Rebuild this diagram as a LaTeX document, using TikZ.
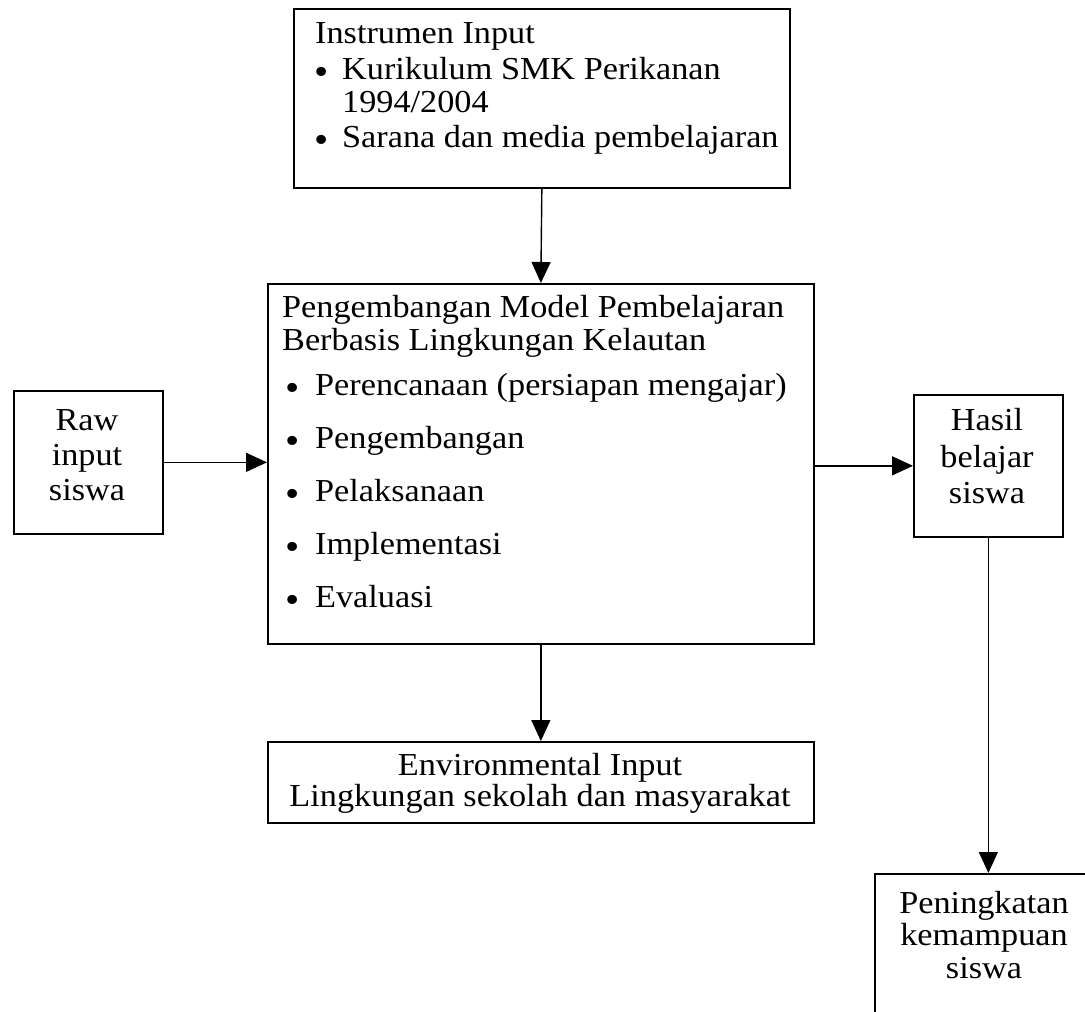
\documentclass[tikz,border=0pt]{standalone}
\usepackage{fontspec}
\setmainfont{Liberation Serif}[FakeStretch=1.07]
\usepackage{tikz}
\usetikzlibrary{positioning, arrows.meta}

\newcommand{\blt}{\raisebox{-5pt}{\fontsize{38}{38}\selectfont\textbullet}}

\tikzset{
  box/.style={draw, line width=1.7pt, anchor=north west, inner sep=0pt},
  txt/.style={anchor=base west, inner sep=0pt},
  ctxt/.style={anchor=base, inner sep=0pt},
  arr/.style={-{Triangle[length=21pt,width=19pt]}, line width=1.4pt}
}

\begin{document}
\begin{tikzpicture}[x=1pt, y=-1pt, font=\fontsize{32}{34}\selectfont]
  \useasboundingbox (0,0) rectangle (1085,1012);
  % Boxes
  \node[box, minimum width=496pt, minimum height=179pt] (instr) at (293,8) {};
  \node[box, minimum width=546pt, minimum height=360pt] (main) at (267,283) {};
  \node[box, minimum width=149pt, minimum height=143pt] (raw) at (13,390) {};
  \node[box, minimum width=149pt, minimum height=142pt] (hasil) at (913,394) {};
  \node[box, minimum width=546pt, minimum height=81pt] (env) at (267,741) {};
  \node[box, minimum width=260pt, minimum height=180pt] (ping) at (874,873) {};
  % Instrumen input
  \node[txt] (instrT) at (315,43) {Instrumen Input};
  \node[txt] (instrB1) at (314,79) {\blt};
  \node[txt, align=left, font=\fontsize{32}{33}\selectfont] (instrI1) at (342,112)
    {Kurikulum SMK Perikanan\\1994/2004};
  \node[txt] (instrB2) at (314,147) {\blt};
  \node[txt] (instrI2) at (342,147) {Sarana dan media pembelajaran};
  % Model pembelajaran
  \node[txt] (mainT1) at (282,317) {Pengembangan Model Pembelajaran};
  \node[txt] (mainT2) at (282,350) {Berbasis Lingkungan Kelautan};
  \foreach \y/\item [count=\i] in {395/Perencanaan (persiapan mengajar), 448/Pengembangan,
      501/Pelaksanaan, 554/Implementasi, 607/Evaluasi} {
    \node[txt] (mainB\i) at (285,\y) {\blt};
    \node[txt] (mainI\i) at (315,\y) {\item};
  }
  % Raw input
  \node[ctxt] (rawA) at (87,430) {Raw};
  \node[ctxt] (rawB) at (87,465) {input};
  \node[ctxt] (rawC) at (87,500) {siswa};
  % Hasil belajar
  \node[ctxt] (hasilA) at (987,430) {Hasil};
  \node[ctxt] (hasilB) at (987,467) {belajar};
  \node[ctxt] (hasilC) at (987,503) {siswa};
  % Environmental input
  \node[ctxt] (envA) at (540,775) {Environmental Input};
  \node[ctxt] (envB) at (540,806) {Lingkungan sekolah dan masyarakat};
  % Peningkatan kemampuan
  \node[ctxt] (pingA) at (984,913) {Peningkatan};
  \node[ctxt] (pingB) at (984,945) {kemampuan};
  \node[ctxt] (pingC) at (984,978) {siswa};
  % Arrows
  \draw[arr] (instr.south) -- (main.north);
  \draw[arr] (main.south) -- (env.north);
  \draw[arr] (raw.east) -- (main.west |- raw.east);
  \draw[arr] (main.east |- hasil.west) -- (hasil.west);
  \draw[arr] (hasil.south) -- (hasil.south |- ping.north);
\end{tikzpicture}
\end{document}
